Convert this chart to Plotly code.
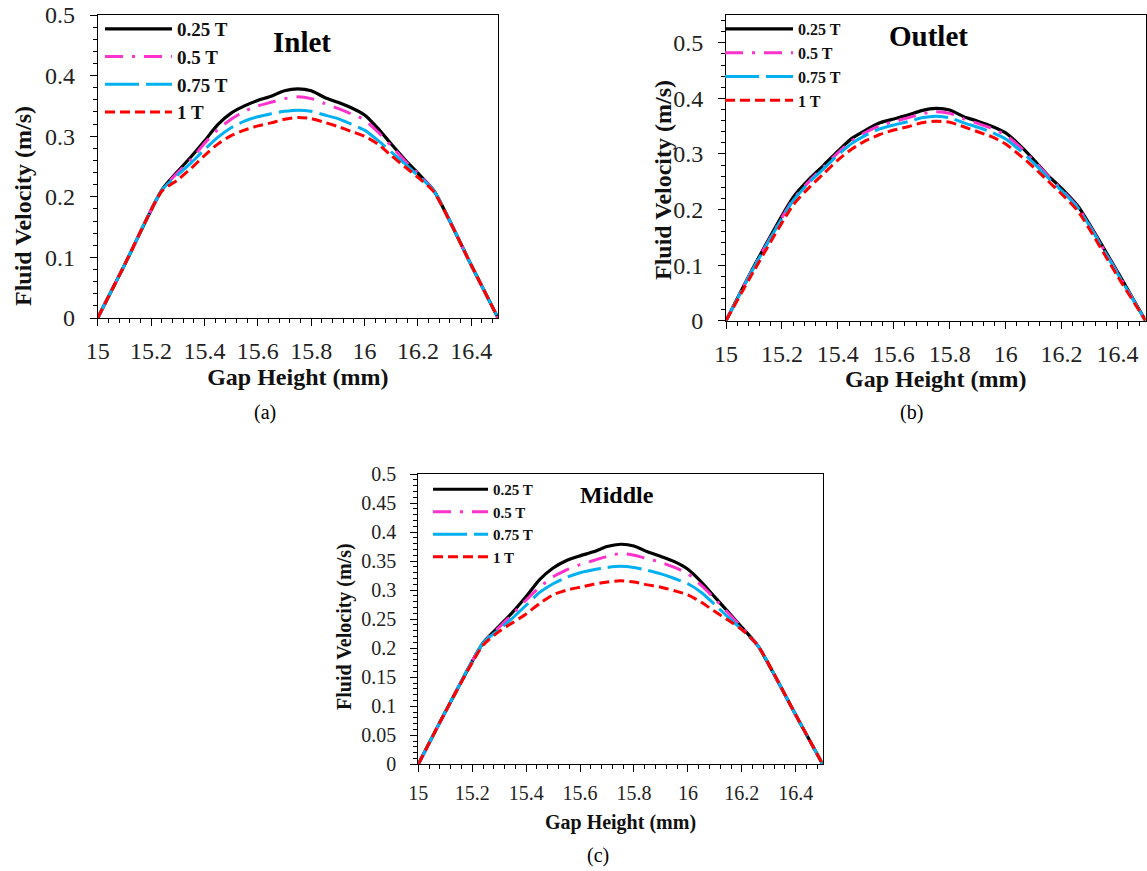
import plotly.graph_objects as go

# ---------------- data ----------------
gap_mm = [15.0, 15.1, 15.24, 15.3, 15.35, 15.4, 15.45, 15.5, 15.55, 15.6, 15.65, 15.7,
          15.75, 15.8, 15.85, 15.9, 15.95, 16.0, 16.05, 16.1, 16.15, 16.2, 16.26, 16.4, 16.5]

series_names = ["0.25 T", "0.5 T", "0.75 T", "1 T"]

inlet_025 = [0, 0.087, 0.211, 0.242, 0.266, 0.292, 0.319, 0.338, 0.350, 0.359, 0.366, 0.375,
             0.378, 0.375, 0.364, 0.356, 0.347, 0.335, 0.313, 0.287, 0.262, 0.239, 0.210, 0.087, 0]
inlet_05 = [0, 0.087, 0.211, 0.240, 0.262, 0.288, 0.311, 0.328, 0.341, 0.350, 0.356, 0.362,
            0.365, 0.362, 0.354, 0.346, 0.337, 0.327, 0.307, 0.284, 0.260, 0.238, 0.210, 0.087, 0]
inlet_075 = [0, 0.087, 0.211, 0.236, 0.256, 0.278, 0.298, 0.314, 0.325, 0.332, 0.337, 0.341,
             0.343, 0.341, 0.335, 0.329, 0.320, 0.310, 0.293, 0.274, 0.255, 0.235, 0.210, 0.087, 0]
inlet_1 = [0, 0.087, 0.209, 0.228, 0.247, 0.268, 0.287, 0.301, 0.310, 0.317, 0.322, 0.328,
           0.331, 0.329, 0.323, 0.316, 0.308, 0.300, 0.287, 0.268, 0.250, 0.232, 0.208, 0.087, 0]

outlet_025 = [0, 0.098, 0.222, 0.256, 0.280, 0.305, 0.328, 0.343, 0.356, 0.363, 0.370, 0.378,
              0.382, 0.379, 0.367, 0.359, 0.350, 0.338, 0.316, 0.290, 0.262, 0.238, 0.205, 0.088, 0]
outlet_05 = [0, 0.097, 0.218, 0.252, 0.277, 0.302, 0.324, 0.339, 0.351, 0.358, 0.365, 0.372,
             0.376, 0.373, 0.363, 0.355, 0.346, 0.334, 0.313, 0.288, 0.261, 0.236, 0.203, 0.086, 0]
outlet_075 = [0, 0.096, 0.216, 0.250, 0.274, 0.298, 0.319, 0.334, 0.345, 0.352, 0.358, 0.365,
              0.368, 0.365, 0.356, 0.348, 0.339, 0.327, 0.307, 0.284, 0.258, 0.234, 0.202, 0.085, 0]
outlet_1 = [0, 0.090, 0.208, 0.241, 0.265, 0.289, 0.309, 0.324, 0.335, 0.343, 0.349, 0.356,
            0.359, 0.357, 0.349, 0.340, 0.331, 0.318, 0.298, 0.276, 0.252, 0.228, 0.196, 0.080, 0]

middle_025 = [0, 0.090, 0.209, 0.238, 0.262, 0.289, 0.318, 0.338, 0.351, 0.359, 0.366, 0.375,
              0.379, 0.376, 0.366, 0.358, 0.349, 0.336, 0.314, 0.288, 0.262, 0.236, 0.204, 0.085, 0]
middle_05 = [0, 0.090, 0.209, 0.236, 0.259, 0.283, 0.305, 0.323, 0.335, 0.344, 0.351, 0.358,
             0.363, 0.360, 0.354, 0.348, 0.339, 0.328, 0.308, 0.285, 0.260, 0.236, 0.204, 0.085, 0]
middle_075 = [0, 0.090, 0.209, 0.232, 0.252, 0.274, 0.296, 0.311, 0.322, 0.330, 0.335, 0.339,
              0.341, 0.339, 0.334, 0.328, 0.320, 0.311, 0.296, 0.275, 0.253, 0.232, 0.204, 0.085, 0]
middle_1 = [0, 0.090, 0.205, 0.229, 0.244, 0.259, 0.277, 0.292, 0.300, 0.305, 0.310, 0.314,
            0.316, 0.314, 0.309, 0.305, 0.299, 0.292, 0.279, 0.263, 0.248, 0.232, 0.204, 0.085, 0]

x_ticks = [15, 15.2, 15.4, 15.6, 15.8, 16, 16.2, 16.4]
x_tick_labels = ["15", "15.2", "15.4", "15.6", "15.8", "16", "16.2", "16.4"]

# ---------------- styling ----------------
W, H = 1147, 871
SERIF = "Liberation Serif, Times New Roman, serif"
colors = ["#000000", "#FF33CC", "#00B0F0", "#FF0000"]
dashes = ["solid", "18px,9px,3px,9px", "34px,7px", "10px,5px"]
widths = [3.2, 3, 3, 3]

def fx(px):
    return px / W

def fy(py):
    return 1 - py / H

panels = [
    dict(key="", series=[inlet_025, inlet_05, inlet_075, inlet_1], label="Inlet",
         dom_x=(97.7, 498), dom_y=(15, 318), yrange=[0, 0.5], ydtick=0.1, yminor=0.02,
         tickfont=24, titlefont=24, legend="legend", legfont=19, legw=67,
         leg_xy=(100, 10), lab_xy=(302, 42), lab_size=29, cap="(a)", cap_xy=(265, 412),
         ytitle_xy=(23, 206), xstand=0),
    dict(key="2", series=[outlet_025, outlet_05, outlet_075, outlet_1], label="Outlet",
         dom_x=(726, 1145.5), dom_y=(15, 320.7), yrange=[0, 0.55], ydtick=0.1, yminor=0.02,
         tickfont=24, titlefont=24, legend="legend2", legfont=16, legw=68,
         leg_xy=(720, 12), lab_xy=(928, 36), lab_size=29, cap="(b)", cap_xy=(911, 412),
         ytitle_xy=(663, 180), xstand=4),
    dict(key="3", series=[middle_025, middle_05, middle_075, middle_1], label="Middle",
         dom_x=(418.3, 822.7), dom_y=(474, 764.3), yrange=[0, 0.5], ydtick=0.05, yminor=0.01,
         tickfont=20, titlefont=20, legend="legend3", legfont=15, legw=55,
         leg_xy=(428, 473), lab_xy=(617, 495), lab_size=24, cap="(c)", cap_xy=(598, 855),
         ytitle_xy=(344, 626), xstand=11),
]

fig = go.Figure()
layout = dict(
    width=W, height=H,
    margin=dict(l=0, r=0, t=0, b=0, pad=0, autoexpand=False),
    paper_bgcolor="white", plot_bgcolor="white",
    font=dict(family=SERIF, color="#222222"),
    annotations=[],
)

for p in panels:
    k = p["key"]
    xa = "x" + k
    ya = "y" + k
    for i, (name, vals) in enumerate(zip(series_names, p["series"])):
        fig.add_trace(go.Scatter(
            x=gap_mm, y=vals, name=name, mode="lines",
            line=dict(color=colors[i], width=widths[i], dash=dashes[i],
                      shape="spline", smoothing=0.6),
            xaxis=xa, yaxis=ya, legend=p["legend"], showlegend=True,
        ))

    layout["xaxis" + k] = dict(
        domain=[fx(p["dom_x"][0]), fx(p["dom_x"][1])],
        anchor=ya, range=[15, 16.5], automargin=False,
        tickmode="array", tickvals=x_ticks, ticktext=x_tick_labels,
        ticks="outside", ticklen=7, tickwidth=1, tickcolor="#000",
        minor=dict(dtick=0.04, tick0=15, ticks="outside", ticklen=4, tickcolor="#000",
                   showgrid=False),
        showline=True, linecolor="#000", linewidth=1, mirror=True,
        showgrid=False, zeroline=False,
        tickfont=dict(family=SERIF, size=p["tickfont"], color="#222"),
        ticklabelstandoff=4,
        title=dict(text="<b>Gap Height (mm)</b>",
                   font=dict(family=SERIF, size=p["titlefont"], color="#111"),
                   standoff=p["xstand"]),
        fixedrange=True,
    )
    layout["yaxis" + k] = dict(
        domain=[fy(p["dom_y"][1]), fy(p["dom_y"][0])],
        anchor=xa, range=p["yrange"], automargin=False,
        dtick=p["ydtick"], tick0=0,
        ticks="outside", ticklen=7, tickwidth=1, tickcolor="#000",
        minor=dict(dtick=p["yminor"], tick0=0, ticks="outside", ticklen=4, tickcolor="#000",
                   showgrid=False),
        showline=True, linecolor="#000", linewidth=1, mirror=True,
        showgrid=False, zeroline=False,
        tickfont=dict(family=SERIF, size=p["tickfont"], color="#222"),
        ticklabelstandoff=10,
        fixedrange=True,
    )
    layout[p["legend"]] = dict(
        x=fx(p["leg_xy"][0]), y=fy(p["leg_xy"][1]), xanchor="left", yanchor="top",
        bgcolor="rgba(0,0,0,0)", borderwidth=0,
        font=dict(family=SERIF, size=p["legfont"], color="#111", weight="bold"),
        itemwidth=p["legw"], tracegroupgap=0,
    )
    # y-axis title (placed like the original, offset downward from the axis centre)
    layout["annotations"].append(dict(
        text="<b>Fluid Velocity (m/s)</b>", xref="paper", yref="paper", textangle=-90,
        x=fx(p["ytitle_xy"][0]), y=fy(p["ytitle_xy"][1]), xanchor="center", yanchor="middle",
        showarrow=False, font=dict(family=SERIF, size=p["titlefont"], color="#111"),
    ))
    layout["annotations"].append(dict(
        text="<b>%s</b>" % p["label"], xref="paper", yref="paper",
        x=fx(p["lab_xy"][0]), y=fy(p["lab_xy"][1]), xanchor="center", yanchor="middle",
        showarrow=False, font=dict(family=SERIF, size=p["lab_size"], color="#000"),
    ))
    layout["annotations"].append(dict(
        text=p["cap"], xref="paper", yref="paper",
        x=fx(p["cap_xy"][0]), y=fy(p["cap_xy"][1]), xanchor="center", yanchor="middle",
        showarrow=False, font=dict(family=SERIF, size=20, color="#000"),
    ))

fig.update_layout(**layout)
fig.write_html("out.html", config={"displayModeBar": False},
               post_script="document.body.style.margin='0px';")
